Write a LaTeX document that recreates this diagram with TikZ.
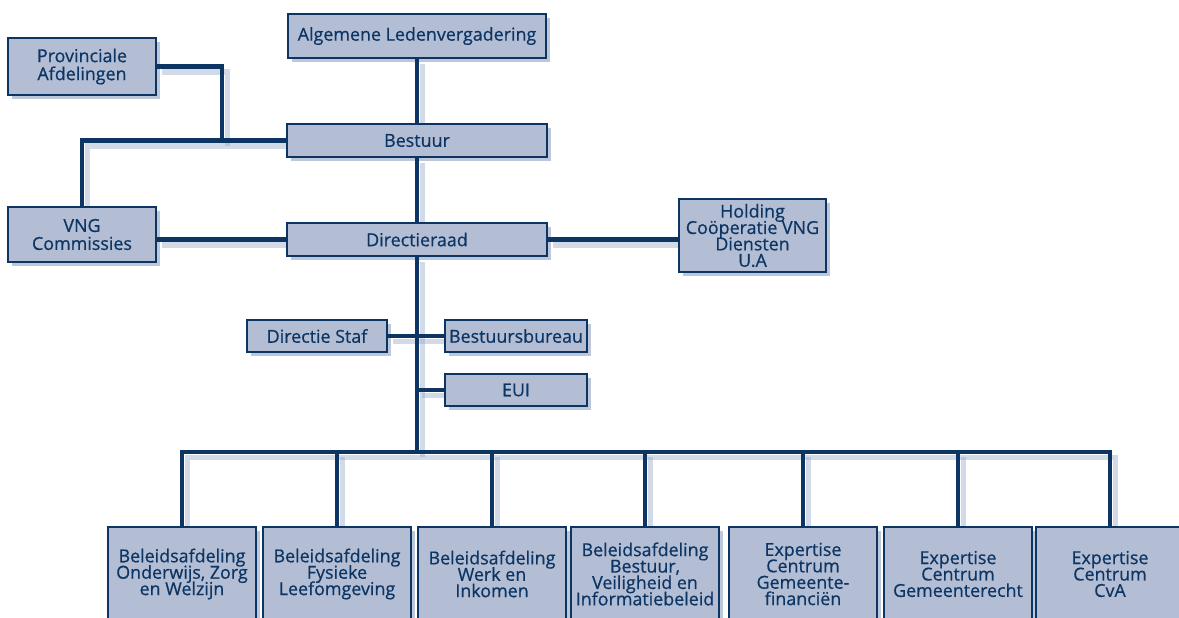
\documentclass[tikz,border=0pt]{standalone}
\usepackage{fontspec}
\setmainfont[FakeBold=0.6]{Open Sans}
\usetikzlibrary{shadows,backgrounds}
\setlength{\lineskiplimit}{-10pt}

\definecolor{navy}{HTML}{0C3564}
\definecolor{boxblue}{HTML}{B3BED4}
\definecolor{shadeblue}{HTML}{8FA2C2}

\tikzset{
  orgbox/.style={draw=navy, line width=1.2pt, fill=boxblue, text=navy,
    align=center, inner sep=1pt, font=\fontsize{13.4}{12.3}\selectfont,
    drop shadow={shadow xshift=3pt, shadow yshift=-3pt, fill=shadeblue, opacity=0.6}},
  loose/.style={font=\fontsize{13.4}{13.5}\selectfont},
  link/.style={draw=navy, line width=3.2pt},
  linkshade/.style={draw=shadeblue, line width=4pt, opacity=0.4,
    transform canvas={xshift=4pt, yshift=-4pt}}
}

% all connectors of the chart, drawn once as shade and once for real
\newcommand\orglinks[1]{%
  \draw[#1] (alv) -- (bestuur);
  \draw[#1] (bestuur) -- (dir);
  \draw[#1] (bestuur.west) -| (vng.north);
  \draw[#1] (prov.east) -| (pj);
  \draw[#1] (dir.west) -- (dir.west -| vng.east);
  \draw[#1] (dir.east) -- (dir.east -| holding.west);
  \draw[#1] (dir.south) -- (bus);
  \draw[#1] (staf.east) -- (bureau.west);
  \draw[#1] (eui.west) -- (eui.west -| bus);
  \draw[#1] (b1.north) |- (bus) -| (b7.north);
  \foreach \i in {2,...,6}
    \draw[#1] (b\i.north) -- (b\i.north |- bus);
}

\begin{document}
\begin{tikzpicture}[x=0.75pt, y=-0.75pt]
  \path[use as bounding box, clip] (0,0) rectangle (1179,618);

  % top of the organisation
  \node[orgbox, minimum width=193.5pt, minimum height=33pt] (alv) at (417,36) {Algemene Ledenvergadering};
  \node[orgbox, loose, minimum width=111pt, minimum height=42.75pt] (prov) at (82,66.5) {Provinciale\\Afdelingen};
  \node[orgbox, minimum width=195pt, minimum height=24.75pt] (bestuur) at (417,140.5) {Bestuur};
  \node[orgbox, loose, minimum width=111pt, minimum height=41.25pt] (vng) at (82,234.5) {VNG\\Commissies};
  \node[orgbox, minimum width=195pt, minimum height=24.75pt] (dir) at (417,239.5) {Directieraad};
  \node[orgbox, minimum width=110pt, minimum height=54.75pt] (holding) at (752.5,235.5) {Holding\\Coöperatie VNG\\Diensten\\U.A};

  % staf
  \node[orgbox, minimum width=105pt, minimum height=24pt] (staf) at (317,336) {Directie Staf};
  \node[orgbox, minimum width=106.5pt, minimum height=24pt] (bureau) at (516,336) {Bestuursbureau};
  \node[orgbox, minimum width=106.5pt, minimum height=24pt] (eui) at (516,390) {EUI};

  \coordinate (pj) at (222,140.5);
  \coordinate (bus) at (417,452);

  % afdelingen
  \foreach \x/\txt [count=\i] in {182/{Beleidsafdeling\\Onderwijs, Zorg\\en Welzijn},
      337/{Beleidsafdeling\\Fysieke\\Leefomgeving},
      492/{Beleidsafdeling\\Werk en\\Inkomen},
      645/{Beleidsafdeling\\Bestuur,\\Veiligheid en\\Informatiebeleid},
      803/{Expertise\\Centrum\\Gemeente-\\financiën},
      958/{Expertise\\Centrum\\Gemeenterecht},
      1110/{Expertise\\Centrum\\CvA}}
    \node[orgbox, minimum width=111pt, minimum height=70.5pt] (b\i) at (\x,574) {\txt};

  \begin{scope}[on background layer]
    \orglinks{linkshade}
  \end{scope}
  \orglinks{link}
\end{tikzpicture}
\end{document}
